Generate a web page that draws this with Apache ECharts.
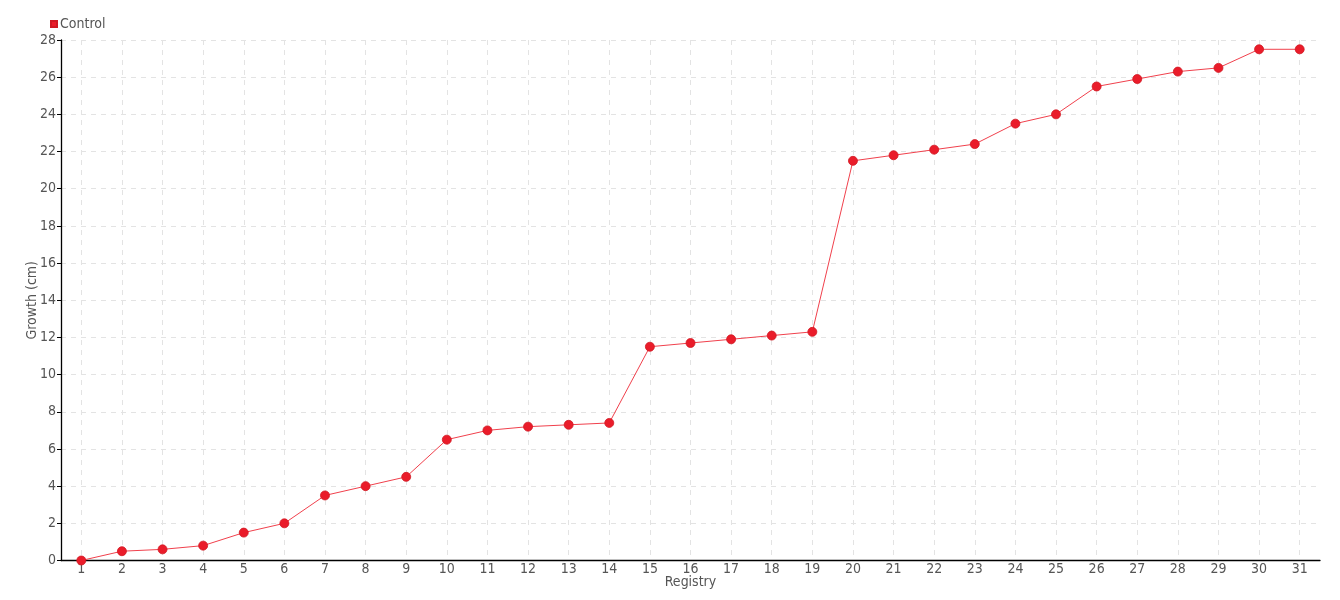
<!DOCTYPE html>
<html>
<head>
<meta charset="utf-8">
<script src="https://cdn.jsdelivr.net/npm/echarts@6/dist/echarts.min.js"></script>
<style>html,body{margin:0;padding:0;background:#fff}#c{width:1340px;height:600px}</style>
</head>
<body>
<div id="c"></div>
<script>
const categories = ['1','2','3','4','5','6','7','8','9','10','11','12','13','14','15','16','17','18','19','20','21','22','23','24','25','26','27','28','29','30','31'];
const controlValues = [0, 0.5, 0.6, 0.8, 1.5, 2.0, 3.5, 4.0, 4.5, 6.5, 7.0, 7.2, 7.3, 7.4, 11.5, 11.7, 11.9, 12.1, 12.3, 21.5, 21.8, 22.1, 22.4, 23.5, 24.0, 25.5, 25.9, 26.3, 26.5, 27.5, 27.5];
const seriesName = 'Control';
const xName = 'Registry';
const yName = 'Growth (cm)';

const FONT = '"DejaVu Sans Condensed", "Liberation Sans Narrow", sans-serif';
const RED = '#ea1c2a';
const LABEL = '#555';
const GRIDC = '#e3e3e3';

const L = 61, R = 20, T = 40, B = 39.5;
const band = (1340 - L - R) / categories.length;

const chart = echarts.init(document.getElementById('c'));
chart.setOption({
  backgroundColor: '#fff',
  animation: false,
  textStyle: { fontFamily: FONT },
  legend: {
    left: 45, top: 12,
    itemWidth: 6, itemHeight: 6, itemGap: 3,
    icon: 'rect',
    data: [seriesName],
    textStyle: { color: LABEL, fontSize: 14, fontFamily: FONT, padding: [0, 0, 0, -2] }
  },
  grid: [
    { left: L, right: R, top: T, bottom: B },
    { left: L + band / 2, right: R + band / 2, top: T, bottom: B }
  ],
  xAxis: [
    {
      type: 'category', gridIndex: 0, data: categories, boundaryGap: true,
      name: xName, nameLocation: 'middle', nameGap: 15, nameMoveOverlap: false,
      nameTextStyle: { color: LABEL, fontSize: 14, fontFamily: FONT },
      axisLine: { lineStyle: { color: '#000', width: 1.3 } },
      axisTick: { alignWithLabel: true, length: 4, lineStyle: { color: '#000' } },
      axisLabel: { color: LABEL, fontSize: 14, margin: 2, interval: 0, fontFamily: FONT },
      splitLine: { show: false }
    },
    {
      type: 'category', gridIndex: 1, data: categories, boundaryGap: false,
      axisLine: { show: false }, axisTick: { show: false }, axisLabel: { show: false },
      splitLine: { show: true, interval: 0, lineStyle: { color: GRIDC, type: [5, 5], width: 1 } }
    }
  ],
  yAxis: [
    {
      type: 'value', gridIndex: 0, min: 0, max: 28, interval: 2,
      name: yName, nameLocation: 'middle', nameGap: 22, nameMoveOverlap: false,
      nameTextStyle: { color: LABEL, fontSize: 14, fontFamily: FONT },
      axisLine: { show: true, lineStyle: { color: '#000', width: 1.3 } },
      axisTick: { show: true, length: 4, lineStyle: { color: '#000' } },
      axisLabel: { color: LABEL, fontSize: 14, margin: 5, fontFamily: FONT },
      splitLine: { show: true, lineStyle: { color: GRIDC, type: [5, 5], width: 1 } }
    },
    {
      type: 'value', gridIndex: 1, min: 0, max: 28, interval: 2, show: false,
      splitLine: { show: false }
    }
  ],
  series: [
    {
      name: seriesName, type: 'line', xAxisIndex: 0, yAxisIndex: 0,
      data: controlValues,
      symbol: 'circle', symbolSize: 9,
      itemStyle: { color: RED, borderColor: '#d01822', borderWidth: 0.8 },
      lineStyle: { color: '#f0404c', width: 1 },
      z: 5
    }
  ]
});
</script>
</body>
</html>
